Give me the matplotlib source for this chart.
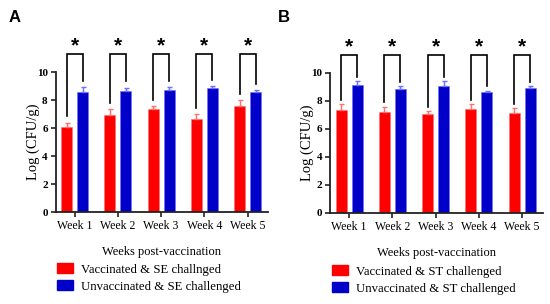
import numpy as np
import matplotlib.pyplot as plt
from matplotlib.patches import Patch

weeks = ['Week 1', 'Week 2', 'Week 3', 'Week 4', 'Week 5']

# panel A: SE challenge
se_vacc = [6.10, 6.93, 7.36, 6.62, 7.60]
se_vacc_err = [0.28, 0.43, 0.21, 0.36, 0.38]
se_unvacc = [8.60, 8.67, 8.71, 8.83, 8.57]
se_unvacc_err = [0.30, 0.21, 0.19, 0.17, 0.12]

# panel B: ST challenge
st_vacc = [7.38, 7.19, 7.10, 7.45, 7.12]
st_vacc_err = [0.38, 0.41, 0.16, 0.31, 0.36]
st_unvacc = [9.14, 8.86, 9.10, 8.62, 8.90]
st_unvacc_err = [0.29, 0.19, 0.30, 0.12, 0.15]

RED = '#ff0000'
BLUE = '#0000c8'
RED_ERR = '#ff7070'
BLUE_ERR = '#7070ff'
SERIF = 'Liberation Serif'

plt.rcParams['font.family'] = SERIF


def draw_panel(ax, vacc, vacc_err, unvacc, unvacc_err, gap):
    x = np.arange(len(weeks))
    off = 0.185
    w = 0.254
    ax.bar(x - off, vacc, w, color=RED, edgecolor=RED_ERR, linewidth=0.4,
           yerr=[np.zeros(len(x)), vacc_err], ecolor=RED_ERR,
           error_kw=dict(capsize=1.8, elinewidth=1.0, capthick=1.0))
    ax.bar(x + off, unvacc, w, color=BLUE, edgecolor=BLUE_ERR, linewidth=0.4,
           yerr=[np.zeros(len(x)), unvacc_err], ecolor=BLUE_ERR,
           error_kw=dict(capsize=1.8, elinewidth=1.0, capthick=1.0))

    # significance brackets
    for i in x:
        lo_l = vacc[i] + vacc_err[i] + gap
        lo_r = unvacc[i] + unvacc_err[i] + gap
        ax.plot([i - off, i - off, i + off, i + off], [lo_l, 11.3, 11.3, lo_r],
                color='black', lw=1.2, clip_on=False, solid_joinstyle='miter')
        ax.text(i, 11.9, '*', ha='center', va='center', fontsize=15,
                fontweight='bold', family='Liberation Sans')

    ax.set_xlim(-0.44, 4.47)
    ax.set_ylim(0, 10)
    ax.set_yticks(range(0, 11, 2))
    ax.set_xticks(x)
    ax.set_xticklabels(weeks, fontsize=8.5)
    for t in ax.get_yticklabels():
        t.set_fontweight('bold')
        t.set_fontsize(8)
    ax.tick_params(axis='both', direction='out', length=3.6, width=1.2,
                   color='#222222', pad=2)
    for s in ['top', 'right']:
        ax.spines[s].set_visible(False)
    for s in ['left', 'bottom']:
        ax.spines[s].set_linewidth(1.3)
        ax.spines[s].set_color('#222222')

    ax.set_ylabel('Log (CFU/g)', fontsize=10.5)
    ax.yaxis.set_label_coords(-0.075, 0.5)
    ax.set_xlabel('Weeks post-vaccination', fontsize=9)
    ax.xaxis.set_label_coords(0.5, -0.24)


fig = plt.figure(figsize=(5.5, 3.04), dpi=100)
axA = fig.add_axes([55.5 / 550, 1 - 212 / 304, 212.6 / 550, 140 / 304])
axB = fig.add_axes([330 / 550, 1 - 213 / 304, 212.6 / 550, 140 / 304])

draw_panel(axA, se_vacc, se_vacc_err, se_unvacc, se_unvacc_err, 0.45)
draw_panel(axB, st_vacc, st_vacc_err, st_unvacc, st_unvacc_err, 0.32)

fig.text(9 / 550, 1 - 17 / 304, 'A', fontsize=12, fontweight='bold',
         family='Liberation Sans', va='center')
fig.text(278 / 550, 1 - 18 / 304, 'B', fontsize=12, fontweight='bold',
         family='Liberation Sans', va='center')

legend_kw = dict(loc='upper left', frameon=False, fontsize=9.2,
                 handlelength=1.28, handleheight=0.85, handletextpad=0.6,
                 labelspacing=0.35, borderpad=0, borderaxespad=0)
fig.legend([Patch(color=RED), Patch(color=BLUE)],
           ['Vaccinated & SE challnged', 'Unvaccinated & SE challenged'],
           bbox_to_anchor=(57 / 550, 1 - 263 / 304), **legend_kw)
fig.legend([Patch(color=RED), Patch(color=BLUE)],
           ['Vaccinated & ST challenged', 'Unvaccinated & ST challenged'],
           bbox_to_anchor=(332 / 550, 1 - 265 / 304), **legend_kw)

fig.savefig('out.png', dpi=100)
